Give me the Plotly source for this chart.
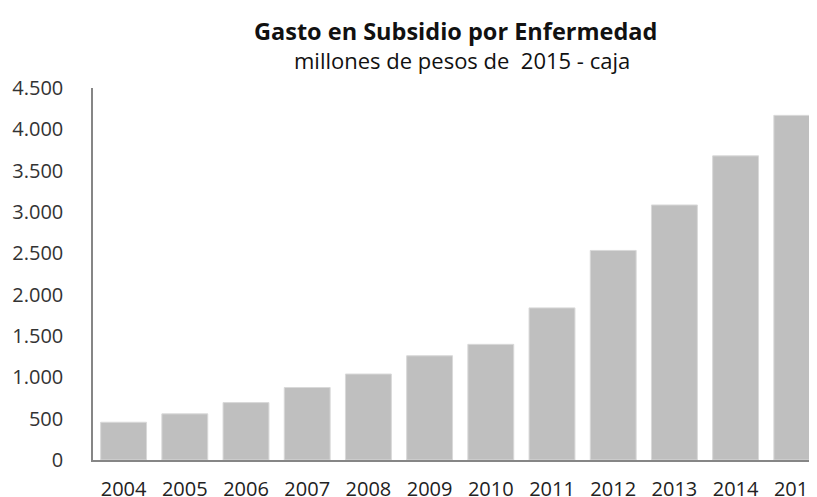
import plotly.graph_objects as go

years = ["2004", "2005", "2006", "2007", "2008", "2009", "2010", "2011", "2012", "2013", "2014", "2015"]
gasto = [457, 558, 695, 877, 1040, 1261, 1399, 1840, 2535, 3085, 3679, 4169]

title_text = "Gasto en Subsidio por Enfermedad"
subtitle_text = "millones de pesos de \u00a02015 - caja"

fig = go.Figure(go.Bar(
    x=years, y=gasto,
    marker=dict(color="#BFBFBF", line=dict(color="#D9D9D9", width=1)),
    hoverinfo="x+y",
))

fig.update_layout(
    width=809, height=489,
    margin=dict(l=85, r=0, t=80, b=37),
    paper_bgcolor="white", plot_bgcolor="white",
    bargap=0.25,
    separators=",.",
    showlegend=False,
    font=dict(family="Open Sans", size=20, color="#333333"),
    annotations=[
        dict(text="<b>" + title_text + "</b>", xref="paper", yref="paper",
             x=0.5, y=1, yshift=57, xanchor="center", yanchor="middle",
             showarrow=False, font=dict(family="Open Sans", size=23.5, color="#111111")),
        dict(text=subtitle_text, xref="paper", yref="paper",
             x=0.51, y=1, yshift=28, xanchor="center", yanchor="middle",
             showarrow=False, font=dict(family="Open Sans", size=22, color="#111111")),
    ],
)

fig.update_xaxes(
    type="category", range=[-0.5, 11.33], automargin=False,
    showline=True, linecolor="#868686", linewidth=1.5,
    ticks="", ticklabelstandoff=10, showgrid=False,
    tickfont=dict(size=20, color="#222222"),
)
fig.update_yaxes(
    range=[0, 4500], dtick=500, tickformat=",d", automargin=False,
    showline=True, linecolor="#868686", linewidth=1.5,
    ticks="", ticklabelstandoff=24, showgrid=False, zeroline=False,
    tickfont=dict(size=20, color="#333333"),
)

fig.write_html("out.html")
